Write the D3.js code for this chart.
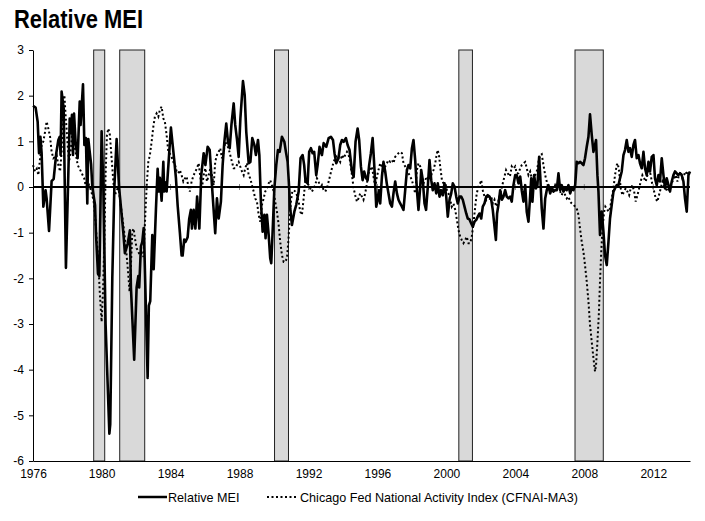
<!DOCTYPE html>
<html>
<head>
<meta charset="utf-8">
<script src="https://cdn.jsdelivr.net/npm/d3@7"></script>
<style>
  html, body { margin: 0; padding: 0; background: #fff; }
  svg { display: block; }
  text { font-family: "Liberation Sans", Arial, Helvetica, sans-serif; fill: #000; }
</style>
</head>
<body>
<svg id="chart" width="705" height="521"></svg>
<script>
// ---------- DATA ----------
const titleText = "Relative MEI";
const yTickValues = [-6, -5, -4, -3, -2, -1, 0, 1, 2, 3];
const xTickLabels = ["1976", "1980", "1984", "1988", "1992", "1996", "2000", "2004", "2008", "2012"];
const seriesNames = ["Relative MEI", "Chicago Fed National Activity Index (CFNAI-MA3)"];

// NBER recessions as drawn (decimal years)
const recessionStart = [1980.00, 1981.51, 1990.49, 2001.18, 2007.92];
const recessionEnd   = [1980.64, 1982.96, 1991.30, 2001.97, 2009.56];

// Relative MEI (solid)
const meiYears = [
1976.48,1976.63,1976.75,1976.83,1976.91,1976.98,1977.08,1977.21,1977.27,1977.41,1977.56,1977.68,1977.83,1977.95,1978.03,1978.08,1978.14,1978.26,1978.39,1978.51,
1978.61,1978.68,1978.74,1978.80,1978.86,1978.95,1979.07,1979.19,1979.24,1979.38,1979.46,1979.55,1979.63,1979.69,1979.76,1979.85,1979.92,1980.00,1980.08,1980.13,
1980.25,1980.33,1980.46,1980.56,1980.69,1980.91,1980.96,1981.08,1981.20,1981.33,1981.39,1981.47,1981.52,1981.62,1981.72,1981.81,1981.97,1982.10,1982.16,1982.35,
1982.49,1982.59,1982.64,1982.74,1982.82,1982.90,1982.93,1983.13,1983.20,1983.28,1983.40,1983.48,1983.61,1983.71,1983.78,1983.84,1983.94,1984.04,1984.09,1984.17,
1984.23,1984.48,1984.56,1984.67,1984.77,1984.87,1985.00,1985.10,1985.16,1985.25,1985.33,1985.45,1985.54,1985.64,1985.70,1985.80,1985.90,1986.00,1986.13,1986.24,
1986.38,1986.48,1986.61,1986.73,1986.86,1987.05,1987.15,1987.25,1987.38,1987.48,1987.58,1987.69,1987.79,1987.89,1987.99,1988.12,1988.21,1988.31,1988.41,1988.51,
1988.66,1988.76,1988.85,1988.99,1989.09,1989.20,1989.32,1989.41,1989.53,1989.61,1989.70,1989.80,1989.90,1989.97,1990.05,1990.15,1990.24,1990.30,1990.38,1990.48,
1990.59,1990.69,1990.79,1990.92,1991.06,1991.15,1991.25,1991.33,1991.40,1991.50,1991.64,1991.75,1991.89,1992.00,1992.12,1992.21,1992.29,1992.41,1992.50,1992.60,
1992.70,1992.79,1992.91,1992.99,1993.10,1993.24,1993.34,1993.49,1993.63,1993.76,1993.88,1993.97,1994.07,1994.20,1994.30,1994.40,1994.50,1994.63,1994.73,1994.84,
1994.98,1995.08,1995.19,1995.31,1995.40,1995.50,1995.60,1995.69,1995.79,1995.89,1995.98,1996.08,1996.18,1996.24,1996.29,1996.39,1996.47,1996.54,1996.62,1996.72,
1996.81,1996.91,1997.00,1997.10,1997.20,1997.30,1997.39,1997.49,1997.59,1997.68,1997.78,1997.88,1997.97,1998.07,1998.17,1998.26,1998.36,1998.46,1998.55,1998.65,
1998.75,1998.84,1998.94,1999.00,1999.09,1999.19,1999.28,1999.38,1999.48,1999.58,1999.67,1999.77,1999.87,1999.96,2000.06,2000.15,2000.25,2000.35,2000.45,2000.54,
2000.64,2000.74,2000.83,2000.93,2001.03,2001.12,2001.22,2001.32,2001.41,2001.51,2001.61,2001.70,2001.80,2001.90,2001.99,2002.09,2002.19,2002.28,2002.38,2002.48,
2002.57,2002.67,2002.77,2002.86,2002.96,2003.06,2003.15,2003.25,2003.33,2003.40,2003.49,2003.58,2003.68,2003.77,2003.87,2003.96,2004.06,2004.16,2004.25,2004.35,
2004.45,2004.54,2004.64,2004.74,2004.83,2004.93,2005.03,2005.12,2005.22,2005.32,2005.38,2005.45,2005.55,2005.65,2005.74,2005.84,2005.90,2005.99,2006.09,2006.19,
2006.28,2006.38,2006.48,2006.57,2006.67,2006.77,2006.86,2006.96,2007.06,2007.15,2007.25,2007.35,2007.44,2007.54,2007.64,2007.73,2007.83,2007.93,2008.02,2008.12,
2008.21,2008.31,2008.41,2008.50,2008.60,2008.70,2008.79,2008.89,2008.99,2009.08,2009.14,2009.22,2009.28,2009.37,2009.47,2009.57,2009.66,2009.76,2009.86,2009.95,
2010.05,2010.15,2010.24,2010.34,2010.44,2010.53,2010.63,2010.73,2010.82,2010.92,2011.02,2011.11,2011.21,2011.31,2011.40,2011.50,2011.60,2011.69,2011.79,2011.89,
2011.98,2012.08,2012.18,2012.27,2012.37,2012.47,2012.56,2012.66,2012.76,2012.85,2012.95,2013.05,2013.14,2013.24,2013.34,2013.43,2013.53,2013.63,2013.72,2013.82,
2013.91,2014.01,2014.11,2014.21,2014.30,2014.40,2014.50,2014.59];
const meiValues = [
1.78,1.74,1.43,0.74,1.10,0.74,-0.43,-0.07,-0.25,-0.96,0.13,0.18,0.74,1.03,1.10,0.70,2.09,1.72,-1.77,0.00,
1.50,1.18,1.58,0.70,1.61,0.99,0.63,1.87,1.36,2.25,0.92,1.07,-0.36,1.05,0.80,0.50,0.00,-0.20,-0.40,-1.00,
-1.90,-1.95,1.22,0.00,-3.00,-5.40,-5.20,-2.00,0.00,1.05,0.60,0.00,-0.20,-0.60,-1.00,-1.45,-1.25,-0.95,-2.20,-3.78,
-2.20,-1.95,-2.20,-1.30,-1.20,-0.90,-1.20,-4.18,-2.60,-2.50,-1.05,-1.80,-0.50,0.40,-0.10,0.20,-0.30,0.55,-0.10,0.10,
-0.10,1.30,1.00,0.60,0.20,-0.40,-1.00,-1.50,-1.50,-1.15,-1.20,-1.10,-0.70,-0.50,-0.91,-0.50,-0.91,-0.21,-0.91,0.26,
0.74,0.48,0.88,0.81,0.04,-1.01,-0.25,-0.69,-0.32,0.48,0.99,1.39,0.99,0.85,1.36,1.83,1.36,1.05,0.66,1.50,
2.32,2.01,1.21,0.52,0.55,1.07,0.92,0.70,1.03,0.70,-0.32,-0.98,-0.61,-1.12,-0.61,-1.05,-1.56,-1.67,-0.98,-0.03,
0.48,0.81,0.77,1.10,0.99,0.77,0.55,0.04,-0.47,-0.83,-0.54,-0.39,-0.10,0.63,0.70,0.48,0.12,0.08,0.77,0.85,
0.74,0.77,0.26,0.48,0.88,0.70,0.96,0.88,1.07,1.10,1.03,0.74,0.52,0.63,0.92,1.03,0.99,1.07,0.92,0.81,
0.35,0.22,0.99,1.28,1.03,0.45,0.15,0.34,0.20,0.15,0.48,0.74,1.07,0.70,0.37,-0.43,-0.28,-0.07,-0.36,0.23,
0.55,0.34,0.08,-0.14,-0.36,-0.43,-0.14,0.12,-0.14,-0.28,-0.36,-0.43,-0.50,-0.07,0.37,0.48,0.41,0.85,1.03,0.59,
-0.07,-0.50,0.00,0.37,0.15,-0.36,-0.50,0.00,0.59,0.15,-0.07,0.08,-0.14,0.08,-0.21,-0.07,-0.18,0.08,-0.21,-0.65,
-0.28,-0.14,0.08,0.01,-0.21,-0.36,-0.21,-0.21,-0.28,-0.43,-0.58,-0.69,-0.71,-0.80,-0.87,-0.76,-0.72,-0.65,-0.58,-0.69,
-0.43,-0.36,-0.21,-0.18,-0.21,-0.28,-0.50,-0.87,-1.16,-0.58,-0.36,-0.07,-0.28,-0.21,-0.07,-0.21,-0.25,-0.21,-0.32,0.04,
0.26,0.26,0.08,0.23,-0.07,-0.32,0.04,-0.54,-0.76,-0.18,0.19,-0.32,0.26,-0.03,0.04,0.66,0.26,-0.47,-0.91,-0.25,
-0.07,0.04,-0.14,-0.03,-0.10,-0.07,-0.07,0.30,-0.07,0.04,-0.10,-0.03,-0.07,0.04,-0.14,-0.03,-0.07,0.04,0.55,0.52,
0.55,0.52,0.48,0.63,0.88,1.10,1.59,1.14,0.77,0.92,1.03,0.26,-0.10,-1.05,-0.54,-0.98,-1.49,-1.71,-1.20,-0.69,
-0.39,-0.10,-0.03,0.04,0.04,0.19,0.34,0.70,0.81,1.03,0.77,0.85,0.66,0.92,1.03,0.63,0.70,0.52,0.41,0.77,
0.41,0.26,0.55,0.34,0.66,0.70,0.19,0.04,0.26,0.12,0.63,0.26,-0.03,0.19,0.04,-0.10,0.12,0.26,0.34,0.30,
0.26,0.30,0.26,0.12,-0.25,-0.54,0.26,0.34];

// CFNAI-MA3 (dotted)
const cfnaiYears = [
1976.48,1976.60,1976.70,1976.79,1976.89,1976.98,1977.08,1977.18,1977.27,1977.37,1977.47,1977.56,1977.66,1977.76,1977.85,1977.95,1978.05,1978.14,1978.24,1978.30,
1978.37,1978.49,1978.57,1978.66,1978.76,1978.86,1978.95,1979.07,1979.17,1979.26,1979.36,1979.45,1979.53,1979.61,1979.73,1979.84,1979.92,1980.00,1980.08,1980.17,
1980.27,1980.36,1980.46,1980.54,1980.62,1980.69,1980.77,1980.85,1980.94,1981.04,1981.14,1981.23,1981.31,1981.39,1981.47,1981.54,1981.62,1981.72,1981.81,1981.91,
1982.01,1982.08,1982.16,1982.24,1982.32,1982.39,1982.49,1982.59,1982.68,1982.78,1982.88,1982.93,1983.01,1983.09,1983.17,1983.26,1983.36,1983.46,1983.55,1983.65,
1983.75,1983.84,1983.94,1984.04,1984.13,1984.23,1984.33,1984.48,1984.62,1984.72,1984.81,1984.91,1985.00,1985.10,1985.20,1985.30,1985.39,1985.49,1985.58,1985.68,
1985.80,1985.90,1985.99,1986.09,1986.15,1986.22,1986.30,1986.38,1986.48,1986.57,1986.67,1986.77,1986.86,1986.96,1987.05,1987.15,1987.25,1987.34,1987.44,1987.54,
1987.63,1987.73,1987.82,1987.92,1988.02,1988.12,1988.21,1988.31,1988.41,1988.50,1988.60,1988.70,1988.79,1988.89,1988.99,1989.08,1989.18,1989.28,1989.37,1989.47,
1989.57,1989.66,1989.76,1989.86,1989.95,1990.05,1990.15,1990.24,1990.34,1990.44,1990.53,1990.63,1990.73,1990.82,1990.92,1991.02,1991.11,1991.21,1991.29,1991.36,
1991.44,1991.52,1991.60,1991.70,1991.79,1991.89,1991.98,1992.08,1992.18,1992.27,1992.37,1992.47,1992.56,1992.66,1992.76,1992.85,1992.95,1993.05,1993.14,1993.24,
1993.34,1993.43,1993.53,1993.63,1993.72,1993.82,1993.92,1994.01,1994.11,1994.20,1994.30,1994.40,1994.50,1994.59,1994.69,1994.79,1994.88,1994.98,1995.08,1995.17,
1995.27,1995.36,1995.46,1995.56,1995.65,1995.75,1995.85,1995.94,1996.04,1996.14,1996.23,1996.33,1996.43,1996.52,1996.62,1996.72,1996.81,1996.91,1997.01,1997.10,
1997.20,1997.30,1997.39,1997.49,1997.59,1997.68,1997.78,1997.88,1997.97,1998.07,1998.17,1998.26,1998.36,1998.46,1998.55,1998.65,1998.75,1998.84,1998.94,1999.04,
1999.13,1999.23,1999.33,1999.43,1999.52,1999.62,1999.71,1999.81,1999.91,1999.96,2000.04,2000.10,2000.20,2000.29,2000.39,2000.49,2000.58,2000.68,2000.77,2000.87,
2000.97,2001.07,2001.16,2001.26,2001.35,2001.45,2001.55,2001.64,2001.74,2001.84,2001.93,2002.03,2002.13,2002.22,2002.32,2002.42,2002.48,2002.57,2002.67,2002.77,
2002.86,2002.96,2003.06,2003.15,2003.25,2003.35,2003.44,2003.54,2003.64,2003.73,2003.83,2003.92,2004.02,2004.12,2004.16,2004.25,2004.35,2004.45,2004.54,2004.64,
2004.74,2004.83,2004.93,2005.03,2005.12,2005.22,2005.32,2005.41,2005.51,2005.61,2005.70,2005.80,2005.90,2005.99,2006.09,2006.19,2006.28,2006.38,2006.48,2006.57,
2006.67,2006.77,2006.86,2006.96,2007.06,2007.15,2007.25,2007.35,2007.44,2007.54,2007.64,2007.73,2007.83,2007.93,2008.02,2008.12,2008.21,2008.31,2008.41,2008.50,
2008.60,2008.70,2008.79,2008.89,2008.99,2009.08,2009.14,2009.22,2009.30,2009.37,2009.45,2009.53,2009.61,2009.68,2009.76,2009.86,2009.95,2010.05,2010.15,2010.24,
2010.34,2010.40,2010.48,2010.57,2010.67,2010.76,2010.86,2010.96,2011.06,2011.15,2011.25,2011.35,2011.44,2011.54,2011.64,2011.73,2011.83,2011.93,2012.02,2012.12,
2012.22,2012.31,2012.41,2012.51,2012.60,2012.70,2012.79,2012.89,2012.99,2013.08,2013.18,2013.28,2013.37,2013.47,2013.57,2013.66,2013.76,2013.86,2013.95,2014.05,
2014.15,2014.24,2014.34,2014.44,2014.53];
const cfnaiValues = [
0.48,0.34,0.40,0.26,0.63,0.92,1.00,1.21,1.43,1.28,1.10,0.77,0.63,0.66,0.70,0.48,0.34,0.77,1.94,2.01,
1.58,0.92,0.55,0.77,1.21,0.99,0.77,0.48,0.41,0.34,0.26,0.19,0.04,-0.03,0.04,-0.07,-0.18,-0.32,-0.61,-1.12,
-1.64,-2.36,-2.95,-2.29,-1.20,0.26,1.14,1.28,1.14,0.63,0.12,-0.18,-0.10,-0.03,-0.10,-0.32,-0.54,-0.83,-1.12,-1.49,
-1.93,-2.29,-1.71,-0.98,-0.91,-1.12,-1.34,-1.42,-1.49,-1.45,-1.53,-1.20,-0.47,0.12,0.55,0.70,0.99,1.32,1.54,1.61,
1.54,1.69,1.76,1.50,1.43,1.14,0.77,0.70,0.55,0.48,0.34,0.30,0.37,0.26,0.12,0.19,0.23,0.01,-0.10,0.12,
0.26,0.34,0.41,0.52,0.33,0.12,0.04,0.26,0.41,0.12,0.26,0.41,0.26,0.04,0.55,0.70,0.77,0.85,0.63,0.77,
0.99,0.92,0.85,0.70,0.55,0.41,0.41,0.48,0.55,0.45,0.34,0.26,0.41,0.52,0.26,0.19,0.04,-0.10,-0.25,-0.32,
-0.61,-0.76,-0.39,-0.25,-0.10,-0.03,0.08,0.15,0.04,-0.10,-0.32,-0.54,-0.83,-1.20,-1.49,-1.64,-1.64,-1.56,-1.20,-0.76,
-0.32,-0.10,-0.07,-0.10,-0.18,-0.32,-0.54,-0.61,-0.25,0.12,0.08,0.04,-0.03,-0.10,-0.03,0.04,0.19,0.12,-0.03,0.04,
-0.07,-0.10,-0.03,0.12,0.26,0.41,0.55,0.63,0.70,0.63,0.55,0.70,0.63,0.70,0.77,0.70,0.55,0.26,-0.03,-0.18,
-0.32,-0.25,-0.14,-0.21,-0.28,-0.14,0.08,0.30,0.37,0.45,0.23,0.01,0.23,0.37,0.52,0.45,0.37,0.45,0.52,0.59,
0.55,0.59,0.52,0.66,0.70,0.74,0.77,0.74,0.52,0.45,0.37,0.30,0.23,0.15,0.01,-0.14,0.37,0.52,0.45,0.23,
0.08,0.15,0.23,0.15,0.19,0.30,0.37,0.52,0.74,0.81,0.66,0.45,0.15,0.08,0.08,-0.07,-0.14,-0.28,-0.43,-0.36,
-0.50,-0.72,-0.94,-1.09,-1.16,-1.23,-1.16,-1.09,-1.23,-1.23,-1.09,-0.80,-0.43,-0.14,0.01,0.08,0.15,-0.07,-0.21,-0.28,
-0.21,-0.28,-0.21,-0.36,-0.28,-0.43,-0.36,-0.21,-0.07,0.08,0.23,0.37,0.30,0.23,0.26,0.45,0.40,0.45,0.30,0.30,
0.41,0.48,0.52,0.55,0.41,0.26,0.34,0.19,0.12,0.26,0.34,0.55,0.70,0.72,0.48,0.26,0.12,-0.03,-0.10,-0.03,
-0.07,0.04,-0.03,-0.07,-0.10,-0.18,-0.07,-0.18,-0.25,-0.21,-0.32,-0.36,-0.39,-0.43,-0.47,-0.61,-0.91,-1.20,-1.42,-1.71,
-2.07,-2.51,-3.02,-3.39,-3.75,-4.04,-3.90,-3.39,-2.80,-2.07,-1.34,-0.83,-0.54,-0.43,-0.47,-0.54,-0.47,-0.25,-0.03,0.26,
0.48,0.52,0.34,-0.03,-0.18,-0.10,-0.03,-0.10,-0.18,-0.03,0.04,-0.10,-0.32,-0.18,-0.03,0.12,0.26,0.19,0.12,0.26,
0.41,0.26,0.04,-0.10,-0.25,-0.32,-0.18,-0.03,0.12,0.04,-0.03,-0.10,-0.03,0.04,0.12,0.19,0.26,0.12,0.26,0.34,
0.19,0.26,0.34,0.26,0.34];

// ---------- CHART ----------
const svg = d3.select("#chart");
svg.append("rect").attr("width", 705).attr("height", 521).attr("fill", "#fff");

const x = d3.scaleLinear().domain([meiYears[0], meiYears[meiYears.length - 1]]).range([33, 690]);
const y = d3.scaleLinear().domain([-6, 3]).range([461, 50]);

// title
svg.append("text")
  .attr("x", 14).attr("y", 28)
  .attr("textLength", 129).attr("lengthAdjust", "spacingAndGlyphs")
  .style("font-family", "'Liberation Sans', Arial, sans-serif")
  .style("font-weight", "bold").style("font-size", "25px")
  .text(titleText);

// recession bars
const rec = recessionStart.map((s, i) => ({ s, e: recessionEnd[i] }));
svg.append("g").selectAll("rect").data(rec).join("rect")
  .attr("x", d => x(d.s)).attr("width", d => x(d.e) - x(d.s))
  .attr("y", y(3)).attr("height", y(-6) - y(3))
  .attr("fill", "#d9d9d9").attr("stroke", "#222").attr("stroke-width", 1);

// y axis
const yAxis = svg.append("g").attr("transform", "translate(33,0)")
  .call(d3.axisLeft(y).tickValues(yTickValues).tickSize(4).tickSizeOuter(0).tickPadding(5).tickFormat(d => String(d)));
yAxis.select(".domain").attr("stroke", "#000").attr("stroke-width", 1);
yAxis.selectAll(".tick line").attr("stroke", "#000");
yAxis.selectAll("text").style("font-size", "12px").style("font-family", "'Liberation Sans', Arial, sans-serif").attr("fill", "#000");

// x axis (category-style labels every 4 years)
const xTickPos = xTickLabels.map(l => Math.max(+l + 0.46, x.domain()[0]));
const xAxis = svg.append("g").attr("transform", `translate(0,${y(-6)})`)
  .call(d3.axisBottom(x).tickValues(xTickPos).tickSize(0).tickSizeOuter(0).tickPadding(8)
    .tickFormat((d, i) => xTickLabels[i]));
xAxis.select(".domain").attr("stroke", "#000").attr("stroke-width", 1);
xAxis.selectAll("text").style("font-size", "12px").style("font-family", "'Liberation Sans', Arial, sans-serif").attr("fill", "#000");

// small ticks on zero line
svg.append("g").selectAll("line").data(xTickPos.slice(1)).join("line")
  .attr("x1", d => x(d)).attr("x2", d => x(d))
  .attr("y1", y(0) - 3).attr("y2", y(0) + 3)
  .attr("stroke", "#888").attr("stroke-width", 1);

// zero line
svg.append("line")
  .attr("x1", x.range()[0]).attr("x2", x.range()[1])
  .attr("y1", y(0)).attr("y2", y(0))
  .attr("stroke", "#000").attr("stroke-width", 2);

const line = d3.line().x(d => x(d[0])).y(d => y(d[1]));

// CFNAI dotted
svg.append("path")
  .datum(cfnaiYears.map((t, i) => [t, cfnaiValues[i]]))
  .attr("d", line).attr("fill", "none")
  .attr("stroke", "#000").attr("stroke-width", 2).attr("stroke-dasharray", "2,2.5");

// MEI solid
svg.append("path")
  .datum(meiYears.map((t, i) => [t, meiValues[i]]))
  .attr("d", line).attr("fill", "none")
  .attr("stroke", "#000").attr("stroke-width", 2.6).attr("stroke-linejoin", "round");

// legend
const leg = svg.append("g").style("font-size", "12.6px");
leg.append("line").attr("x1", 138).attr("x2", 167).attr("y1", 497).attr("y2", 497)
  .attr("stroke", "#000").attr("stroke-width", 2.5);
leg.append("text").attr("x", 168).attr("y", 501.5).text(seriesNames[0]);
leg.append("line").attr("x1", 267).attr("x2", 297).attr("y1", 497).attr("y2", 497)
  .attr("stroke", "#000").attr("stroke-width", 2).attr("stroke-dasharray", "2,2.5");
leg.append("text").attr("x", 300).attr("y", 501.5).text(seriesNames[1]);
</script>
</body>
</html>
